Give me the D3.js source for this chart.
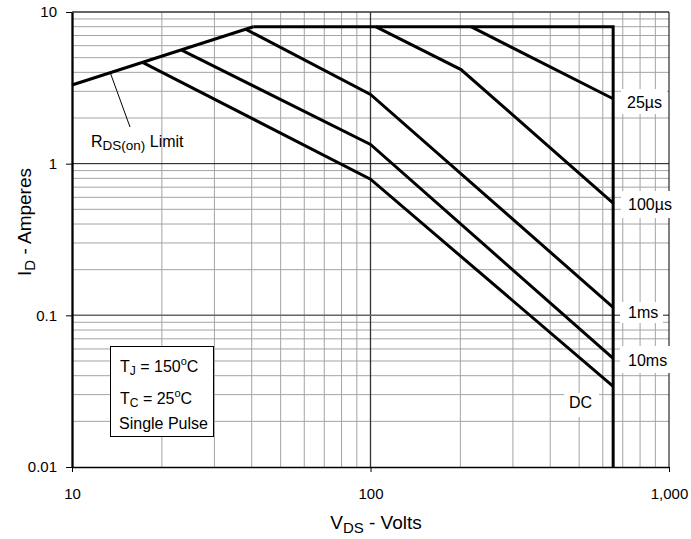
<!DOCTYPE html>
<html>
<head>
<meta charset="utf-8">
<script src="https://cdn.jsdelivr.net/npm/d3@7"></script>
<style>
  body { margin: 0; background: #fff; }
  text { font-family: "Liberation Sans", Arial, sans-serif; fill: #000; }
</style>
</head>
<body>
<svg></svg>
<script>
// axis ticks
var xTicks = [10, 100, 1000]
var xTickLabels = ["10", "100", "1,000"]
var yTicks = [0.01, 0.1, 1, 10]
var yTickLabels = ["0.01", "0.1", "1", "10"]

// curves (V in volts, I in amperes)
var rdsV = [10, 40.5]
var rdsI = [3.3, 8]
var limitV = [40.5, 650, 650]
var limitI = [8, 8, 0.01]
var us25V = [217, 650]
var us25I = [8, 2.68]
var us100V = [104, 201, 650]
var us100I = [8, 4.17, 0.55]
var ms1V = [38.3, 100, 650]
var ms1I = [7.68, 2.86, 0.113]
var ms10V = [23.3, 100, 650]
var ms10I = [5.6, 1.34, 0.052]
var dcV = [17.3, 100, 650]
var dcI = [4.64, 0.79, 0.034]

var curveNames = ["25µs", "100µs", "1ms", "10ms", "DC"]
var curveV = [us25V, us100V, ms1V, ms10V, dcV]
var curveI = [us25I, us100I, ms1I, ms10I, dcI]

var width = 691
var height = 539
// note: "top" is taken by window.top, so use other names
var pLeft = 72, pRight = 669, pTop = 12, pBottom = 467

var svg = d3.select("svg")
  .attr("width", width)
  .attr("height", height)

var x = d3.scaleLog().domain([10, 1000]).range([pLeft, pRight])
var y = d3.scaleLog().domain([0.01, 10]).range([pBottom, pTop])

// minor grid
var minorX = []
;[10, 100].forEach(function (d) { for (var k = 2; k <= 9; k++) minorX.push(d * k) })
var minorY = []
;[0.01, 0.1, 1].forEach(function (d) { for (var k = 2; k <= 9; k++) minorY.push(d * k) })

var grid = svg.append("g")
grid.selectAll(".vx").data(minorX).enter().append("line")
  .attr("x1", d => x(d)).attr("x2", d => x(d))
  .attr("y1", pTop).attr("y2", pBottom)
  .attr("stroke", "#a3a3a3").attr("stroke-width", 1)
grid.selectAll(".hy").data(minorY).enter().append("line")
  .attr("x1", pLeft).attr("x2", pRight)
  .attr("y1", d => y(d)).attr("y2", d => y(d))
  .attr("stroke", "#a3a3a3").attr("stroke-width", 1)

// decade lines
grid.append("line").attr("x1", x(100)).attr("x2", x(100)).attr("y1", pTop).attr("y2", pBottom)
  .attr("stroke", "#333").attr("stroke-width", 1.3)
grid.append("line").attr("x1", pLeft).attr("x2", pRight).attr("y1", y(1)).attr("y2", y(1))
  .attr("stroke", "#111").attr("stroke-width", 1)
grid.append("line").attr("x1", pLeft).attr("x2", pRight).attr("y1", y(0.1)).attr("y2", y(0.1))
  .attr("stroke", "#666").attr("stroke-width", 1.5)

// frame
svg.append("line").attr("x1", pLeft).attr("x2", pRight).attr("y1", pTop).attr("y2", pTop)
  .attr("stroke", "#333").attr("stroke-width", 1.5)
svg.append("line").attr("x1", pRight).attr("x2", pRight).attr("y1", pTop).attr("y2", pBottom)
  .attr("stroke", "#000").attr("stroke-width", 1)

// axes
var xAxis = d3.axisBottom(x).tickValues(xTicks).tickFormat((d, i) => xTickLabels[i])
  .tickSizeInner(5).tickSizeOuter(0).tickPadding(16)
var gx = svg.append("g").attr("transform", "translate(0," + pBottom + ")").call(xAxis)
gx.select(".domain").attr("stroke", "#000").attr("stroke-width", 1.5)
gx.selectAll("text").style("font-size", "15px").style("font-family", "Liberation Sans, Arial, sans-serif")

var yAxis = d3.axisLeft(y).tickValues(yTicks).tickFormat((d, i) => yTickLabels[i])
  .tickSizeInner(6).tickSizeOuter(0).tickPadding(9)
var gy = svg.append("g").attr("transform", "translate(" + pLeft + ",0)").call(yAxis)
gy.select(".domain").attr("stroke", "#000").attr("stroke-width", 2.3)
gy.selectAll("text").style("font-size", "15px").style("font-family", "Liberation Sans, Arial, sans-serif")

// curves
var line = d3.line().x(d => x(d[0])).y(d => y(d[1]))
function pts(vs, is) { return vs.map((v, i) => [v, is[i]]) }

var curves = svg.append("g").attr("fill", "none").attr("stroke", "#000")
  .attr("stroke-width", 3).attr("stroke-linejoin", "miter")
curves.append("path").attr("d", line(pts(rdsV, rdsI)))
curves.append("path").attr("d", line(pts(limitV, limitI)))
curveV.forEach(function (vs, i) {
  curves.append("path").attr("d", line(pts(vs, curveI[i])))
})

// RDS(on) pointer
svg.append("line").attr("x1", 110).attr("y1", 72).attr("x2", 130).attr("y2", 127)
  .attr("stroke", "#000").attr("stroke-width", 1)
var rds = svg.append("text").attr("x", 91).attr("y", 147).style("font-size", "16px")
rds.append("tspan").text("R")
rds.append("tspan").attr("dy", 3).style("font-size", "13.5px").text("DS(on)")
rds.append("tspan").attr("dy", -3).text(" Limit")

// curve labels with white boxes
var labelBoxes = [
  { x: 621, y: 89, w: 46, h: 25, tx: 627, ty: 108 },
  { x: 621, y: 191, w: 58, h: 27, tx: 628, ty: 210 },
  { x: 620, y: 302, w: 43, h: 21, tx: 628, ty: 318 },
  { x: 620, y: 346, w: 54, h: 27, tx: 628, ty: 366 },
  { x: 564, y: 393, w: 35, h: 24, tx: 569, ty: 408 }
]
curveNames.forEach(function (name, i) {
  var b = labelBoxes[i]
  svg.append("rect").attr("x", b.x).attr("y", b.y).attr("width", b.w).attr("height", b.h).attr("fill", "#fff")
  svg.append("text").attr("x", b.tx).attr("y", b.ty).style("font-size", "16px").text(name)
})

// conditions box
svg.append("rect").attr("x", 110.5).attr("y", 346.5).attr("width", 103).attr("height", 90)
  .attr("fill", "#fff").attr("stroke", "#000").attr("stroke-width", 1)
var t1 = svg.append("text").attr("x", 120).attr("y", 372).style("font-size", "16px")
t1.append("tspan").text("T")
t1.append("tspan").attr("dy", 3).style("font-size", "12px").text("J")
t1.append("tspan").attr("dy", -3).text(" = 150")
t1.append("tspan").attr("dy", -7).style("font-size", "11px").text("o")
t1.append("tspan").attr("dy", 7).text("C")
var t2 = svg.append("text").attr("x", 120).attr("y", 404).style("font-size", "16px")
t2.append("tspan").text("T")
t2.append("tspan").attr("dy", 3).style("font-size", "12px").text("C")
t2.append("tspan").attr("dy", -3).text(" = 25")
t2.append("tspan").attr("dy", -7).style("font-size", "11px").text("o")
t2.append("tspan").attr("dy", 7).text("C")
svg.append("text").attr("x", 119).attr("y", 429).style("font-size", "16px").text("Single Pulse")

// axis titles
var xt = svg.append("text").attr("x", 376).attr("y", 529).attr("text-anchor", "middle").style("font-size", "19px")
xt.append("tspan").text("V")
xt.append("tspan").attr("dy", 4).style("font-size", "15px").text("DS")
xt.append("tspan").attr("dy", -4).text(" - Volts")

var yt = svg.append("text").attr("transform", "translate(31,222) rotate(-90)")
  .attr("text-anchor", "middle").style("font-size", "19px")
yt.append("tspan").text("I")
yt.append("tspan").attr("dy", 4).style("font-size", "15px").text("D")
yt.append("tspan").attr("dy", -4).text(" - Amperes")
</script>
</body>
</html>
